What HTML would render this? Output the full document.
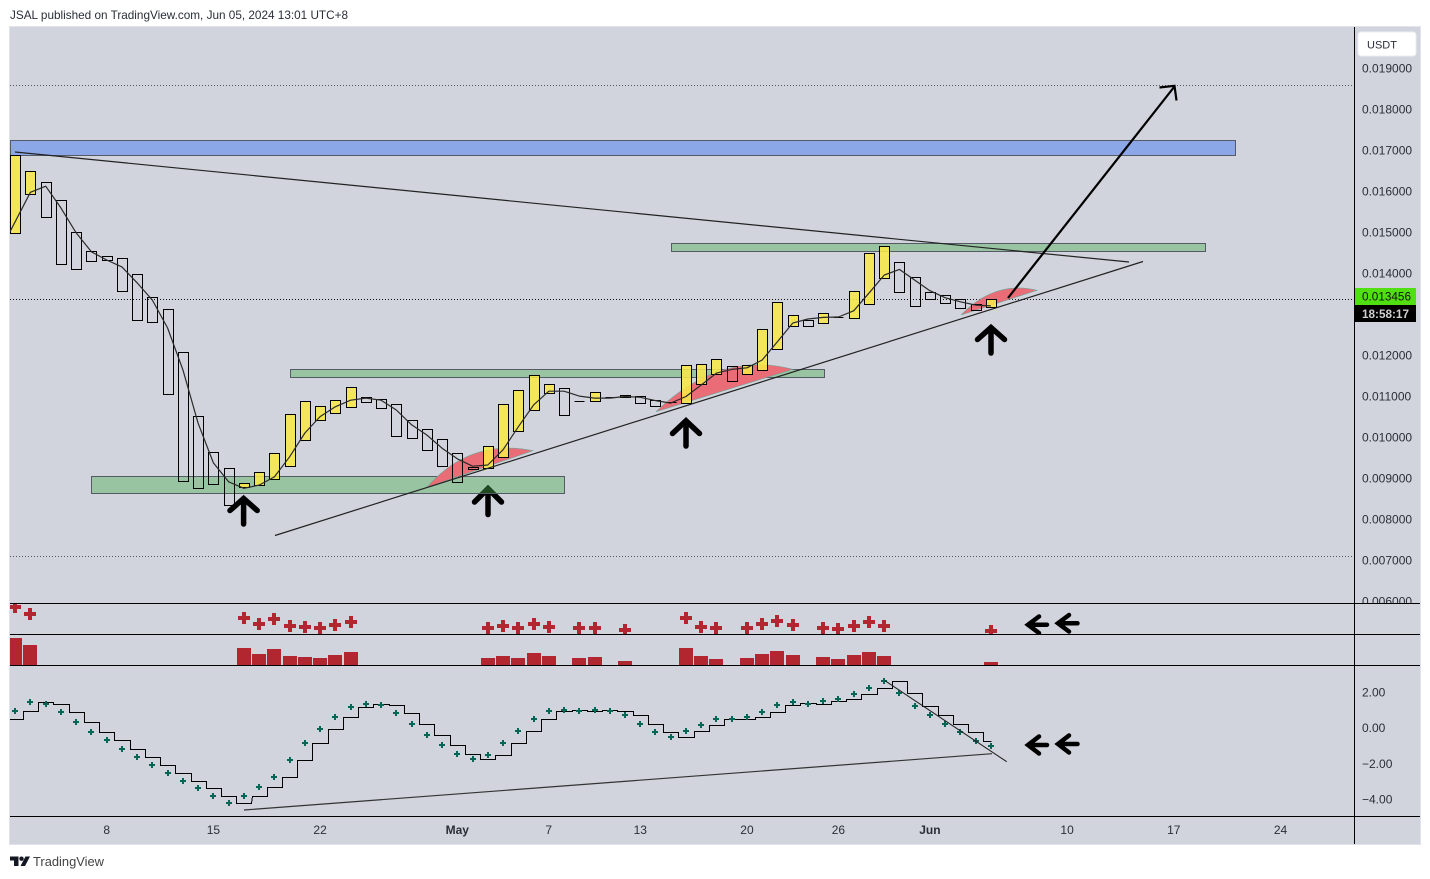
<!DOCTYPE html>
<html lang="en">
<head>
<meta charset="utf-8">
<title>JSAL TradingView chart</title>
<style>
html,body{margin:0;padding:0;background:#fff;width:1430px;height:879px;overflow:hidden}
svg{display:block;font-family:"Liberation Sans",sans-serif}
text{fill:#2a2e39}
</style>
</head>
<body>
<svg id="chart" width="1430" height="879" viewBox="0 0 1430 879">
  <defs>
    <clipPath id="clip-main"><rect x="10" y="27" width="1344" height="576"/></clipPath>
    <clipPath id="clip-signal"><rect x="10" y="604" width="1344" height="30"/></clipPath>
    <clipPath id="clip-hist"><rect x="10" y="635" width="1344" height="30"/></clipPath>
    <clipPath id="clip-osc"><rect x="10" y="666" width="1344" height="150"/></clipPath>
    <clipPath id="clip-axis"><rect x="1355" y="27" width="65" height="576"/></clipPath>
  </defs>

  <text x="10" y="19" font-size="12" textLength="338" lengthAdjust="spacingAndGlyphs">JSAL published on TradingView.com, Jun 05, 2024 13:01 UTC+8</text>

  <rect x="9.5" y="26.5" width="1411" height="818" fill="#d1d4dc" stroke="#e0e3eb"/>

  <g clip-path="url(#clip-main)">
    <g id="price-levels"></g>
    <rect x="10.5" y="140.5" width="1225" height="15" fill="#8ca7e8" stroke="#555a66"/>
    <g fill="none" stroke="#000" stroke-width="5.5" stroke-linecap="round" stroke-linejoin="miter">
      <path d="M230 510.5 L243.6 498.5 L257.2 510.5 M243.6 498.5 V524"/>
      <path d="M474.5 502 L488 488.5 L501.5 502 M488 488.5 V514.5"/>
      <path d="M672.5 433.5 L686 420.8 L699.5 433.5 M686 420.8 V446"/>
      <path d="M977.5 339.5 L991 327.5 L1004.5 339.5 M991 327.5 V353"/>
    </g>
    <rect x="91.5" y="476.5" width="473" height="17" fill="rgba(76,175,80,.42)" stroke="#555a66"/>
    <rect x="290.5" y="369.5" width="534" height="8" fill="rgba(76,175,80,.42)" stroke="#555a66"/>
    <rect x="671.5" y="243.5" width="534" height="8" fill="rgba(76,175,80,.42)" stroke="#555a66"/>
    <path d="M427 487.3 Q470 438 533 450.7 Z" fill="#ea6c76" stroke="#6fa59a" stroke-width=".6"/>
    <path d="M656 411.7 Q720 350 793 369.3 Z" fill="#ea6c76" stroke="#6fa59a" stroke-width=".6"/>
    <path d="M961 315 Q995 280 1037 290.3 Z" fill="#ea6c76" stroke="#6fa59a" stroke-width=".6"/>
    <g id="candles"></g>
    <path id="ma-line" fill="none" stroke="#2b2b2b" stroke-width="1.2" stroke-linejoin="round"/>
    <line x1="15" y1="152" x2="1129" y2="262" stroke="#222" stroke-width="1.2"/>
    <line x1="275" y1="535.5" x2="1143" y2="261.5" stroke="#222" stroke-width="1.2"/>
    <path d="M1008 298 L1174.5 86.5 M1159.500 87.500 L1174.500 85.800 L1176.500 100.500" fill="none" stroke="#000" stroke-width="2.2"/>
  </g>

  <g clip-path="url(#clip-signal)">
    <path id="signal-marks" fill="#b2272f"/>
    <g fill="none" stroke="#000" stroke-width="4.5" stroke-linecap="round">
      <path d="M1039 616.500 L1028 624.700 L1039 633 M1029 624.700 H1047"/>
      <path d="M1069 615 L1058 623.300 L1069 631.500 M1059 623.300 H1077.500"/>
    </g>
  </g>

  <g id="hist-bars" clip-path="url(#clip-hist)"></g>

  <g clip-path="url(#clip-osc)">
    <path id="osc-step" fill="none" stroke="#000" stroke-width="1" shape-rendering="crispEdges"/>
    <path id="osc-plus" fill="#056656" shape-rendering="crispEdges"/>
    <line x1="244" y1="810" x2="992" y2="753.700" stroke="#333" stroke-width="1.2"/>
    <line x1="885" y1="680.700" x2="1006.700" y2="761.700" stroke="#222" stroke-width="1.1"/>
    <g fill="none" stroke="#000" stroke-width="4.5" stroke-linecap="round">
      <path d="M1039 736.500 L1028 745 L1039 753.500 M1029 745 H1047"/>
      <path d="M1069 735.500 L1058 744 L1069 752.500 M1059 744 H1077.500"/>
    </g>
  </g>

  <g stroke="#000" stroke-width="1">
    <line x1="10" y1="603.500" x2="1420" y2="603.500"/>
    <line x1="10" y1="634.500" x2="1420" y2="634.500"/>
    <line x1="10" y1="665.500" x2="1420" y2="665.500"/>
    <line x1="10" y1="816.500" x2="1420" y2="816.500"/>
    <line x1="1354.500" y1="27" x2="1354.500" y2="844"/>
  </g>

  <g id="price-axis" clip-path="url(#clip-axis)" font-size="12"></g>
  <g id="osc-axis" font-size="12"></g>
  <g id="time-axis" font-size="12"></g>

  <g>
    <rect x="1358" y="32" width="58" height="24" rx="3" fill="#fff" stroke="#eceef2"/>
    <text x="1367" y="48.500" font-size="11">USDT</text>
  </g>
  <g>
    <rect x="1355" y="288" width="61" height="17" fill="#50e012"/>
    <text x="1362" y="300.500" font-size="12" textLength="49" lengthAdjust="spacingAndGlyphs" style="fill:#111">0.013456</text>
    <rect x="1355" y="305" width="61" height="17" fill="#000"/>
    <text x="1362" y="318" font-size="12" font-weight="bold" textLength="47" lengthAdjust="spacingAndGlyphs" style="fill:#d0d0d0">18:58:17</text>
  </g>

  <g>
    <path d="M10 856.500 H18.500 V866 H14 V860.500 H10 Z" fill="#131722"/>
    <circle cx="21.500" cy="858.700" r="2.200" fill="#131722"/>
    <path d="M25.500 856.500 H30 L25 866 H20.500 Z" fill="#131722"/>
    <text x="33" y="866" font-size="13" textLength="71" lengthAdjust="spacingAndGlyphs" style="fill:#444">TradingView</text>
  </g>
</svg>

<script>
// Prices are in units of 0.001 USDT; one entry per daily bar, starting 2 April.
const openPrices = [14.980,15.932,16.224,15.785,15.005,14.541,14.420,14.371,13.980,13.420,13.127,12.078,10.517,9.639,9.249,8.785,8.834,8.980,9.298,9.932,10.420,10.590,10.737,10.980,10.932,10.810,10.420,10.200,9.956,9.615,9.273,9.249,9.517,10.151,10.663,11.078,11.200,10.883,10.883,10.971,10.980,11.005,10.907,10.849,10.834,11.298,11.541,11.737,11.541,11.639,12.151,12.712,12.859,12.785,12.939,12.907,13.249,13.883,14.273,13.907,13.541,13.468,13.371,13.249,13.176];
const closePrices = [16.883,16.493,15.371,14.224,14.102,14.298,14.322,13.566,12.859,12.810,11.054,8.932,8.761,8.859,8.346,8.883,9.151,9.615,10.566,10.883,10.761,10.907,11.224,10.859,10.712,10.029,9.980,9.688,9.298,8.907,9.224,9.785,10.810,11.151,11.517,11.298,10.541,10.883,11.102,10.971,11.029,10.834,10.761,10.849,11.761,11.785,11.907,11.371,11.761,12.639,13.298,12.980,12.712,13.029,12.939,13.566,14.493,14.663,13.541,13.200,13.371,13.273,13.151,13.102,13.371];
const maValues = [15.02,15.98,16.13,15.60,14.99,14.53,14.33,14.16,13.77,13.35,12.67,11.65,10.35,9.38,8.92,8.76,8.84,9.04,9.53,10.11,10.51,10.75,10.91,10.96,10.91,10.67,10.31,10.06,9.74,9.48,9.30,9.33,9.70,10.26,10.79,11.13,11.13,11.01,10.96,10.96,11.00,10.98,10.90,10.84,11.00,11.28,11.57,11.66,11.70,11.89,12.34,12.79,12.89,12.93,12.94,13.09,13.52,13.96,14.10,13.84,13.58,13.41,13.31,13.23,13.21];
const signalBars = [0,1,15,16,17,18,19,20,21,22,31,32,33,34,35,37,38,40,44,45,46,48,49,50,51,53,54,55,56,57,64];
const signalPlusValues = [27.8,20.5,16.5,10.5,15.5,8.5,7.5,6.5,9.5,12.5,6.2,8.5,6.5,10.5,7.5,6.5,6.5,4.5,16.5,7.5,6.2,6.5,10.5,13.5,9.5,6.5,5.5,8.5,12.5,8.5,3.5];
const signalHistValues = [27,20,17,11,16,9,8,7,10,13,7,9,7,12,9,7,8,4,17,9,6,7,11,14,10,8,6,10,13,9,3];
const oscStepValues = [0.50,0.94,1.45,1.34,0.89,0.33,-0.23,-0.68,-1.18,-1.63,-2.08,-2.53,-2.98,-3.37,-3.82,-4.21,-3.82,-3.31,-2.75,-1.80,-0.85,-0.06,0.61,1.17,1.34,1.28,0.83,0.22,-0.40,-0.96,-1.46,-1.74,-1.52,-0.85,-0.18,0.50,0.94,1.00,0.94,1.00,0.94,0.72,0.22,-0.23,-0.51,-0.18,0.16,0.50,0.50,0.61,0.89,1.28,1.39,1.34,1.51,1.62,1.90,2.23,2.63,1.95,1.23,0.72,0.22,-0.23,-0.74];
const oscPlusValues = [0.98,1.49,1.37,0.93,0.37,-0.20,-0.64,-1.15,-1.60,-2.05,-2.49,-2.94,-3.34,-3.78,-4.18,-3.78,-3.28,-2.72,-1.77,-0.81,-0.03,0.65,1.21,1.37,1.32,0.87,0.25,-0.36,-0.92,-1.43,-1.71,-1.48,-0.81,-0.14,0.53,0.98,1.00,0.98,1.03,0.98,0.76,0.25,-0.20,-0.47,-0.14,0.20,0.53,0.53,0.65,0.93,1.32,1.49,1.37,1.54,1.65,1.93,2.27,2.66,1.99,1.26,0.76,0.25,-0.20,-0.70,-0.98];
const priceTickValues = [19,18,17,16,15,14,13,12,11,10,9,8,7,6];
const priceTickLabels = ['0.019000','0.018000','0.017000','0.016000','0.015000','0.014000','','0.012000','0.011000','0.010000','0.009000','0.008000','0.007000','0.006000'];
const oscTickValues = [2,0,-2,-4];
const oscTickLabels = ['2.00','0.00','\u22122.00','\u22124.00'];
const timeTickBars = [6,13,20,29,35,41,48,54,60,69,76,83];
const timeTickLabels = ['8','15','22','May','7','13','20','26','Jun','10','17','24'];
const dottedLevels = [18.586,13.366,7.098];

const SVG_NS = 'http://www.w3.org/2000/svg';
const xOf = function (bar) { return 15.2 + 15.245 * bar; };
const yPrice = function (p) { return 68.5 + (19 - p) * 41; };
const yOsc = function (v) { return 728.2 - 17.85 * v; };
const ySignal = function (v) { return 634.5 - v; };
const yHist = function (v) { return 665 - v; };
const snap = function (n) { return Math.floor(n) + 0.5; };
function make(tag, parent) {
  const el = document.createElementNS(SVG_NS, tag);
  parent.appendChild(el);
  return el;
}
function crossPath(cx, cy, half, arm) {
  return 'M' + (cx - arm) + ' ' + (cy - half) + 'h' + (2 * arm) + 'v' + (half - arm) + 'h' + (half - arm) +
    'v' + (2 * arm) + 'h' + (arm - half) + 'v' + (half - arm) + 'h' + (-2 * arm) + 'v' + (arm - half) +
    'h' + (arm - half) + 'v' + (-2 * arm) + 'h' + (half - arm) + 'z';
}

const levelGroup = document.getElementById('price-levels');
dottedLevels.forEach(function (level) {
  const line = make('line', levelGroup);
  
  
  const y = snap(yPrice(level));
  line.setAttribute('x1', 10);
  line.setAttribute('x2', 1354);
  line.setAttribute('y1', y);
  line.setAttribute('y2', y);
  line.setAttribute('stroke', level > 13 && level < 14 ? '#111' : '#555');
  line.setAttribute('stroke-width', 1);
  line.setAttribute('stroke-dasharray', '1 2');
});

const candleGroup = document.getElementById('candles');
openPrices.forEach(function (open, i) {
  const close = closePrices[i];
  const top = snap(yPrice(Math.max(open, close)));
  const bottom = snap(yPrice(Math.min(open, close)));
  const left = Math.round(xOf(i) - 5) + 0.5;
  const candle = make('path', candleGroup);
  
  
  candle.setAttribute('d', 'M' + left + ' ' + top + 'h10V' + bottom + 'h-10z');
  candle.setAttribute('fill', close > open ? 'rgba(248,232,72,.88)' : 'none');
  candle.setAttribute('stroke', '#000');
  candle.setAttribute('stroke-width', 1);
  candle.setAttribute('shape-rendering', 'crispEdges');
});

document.getElementById('ma-line').setAttribute('d', maValues.map(function (v, i) {
  return (i ? 'L' : 'M') + (i === 0 ? 10 : xOf(i)).toFixed(1) + ' ' + yPrice(v).toFixed(1);
}).join(''));

let signalPath = '';
signalBars.forEach(function (bar, i) {
  signalPath += crossPath(Math.round(xOf(bar)), Math.round(ySignal(signalPlusValues[i])), 6, 2);
});
document.getElementById('signal-marks').setAttribute('d', signalPath);

const histGroup = document.getElementById('hist-bars');
signalBars.forEach(function (bar, i) {
  const rect = make('rect', histGroup);
  
  
  rect.setAttribute('x', Math.round(xOf(bar) - 7));
  rect.setAttribute('width', 14);
  rect.setAttribute('y', yHist(signalHistValues[i]));
  rect.setAttribute('height', signalHistValues[i]);
  rect.setAttribute('fill', '#b2272f');
});

let stepPath = '';
oscStepValues.forEach(function (v, i) {
  const y = snap(yOsc(v));
  const x1 = i === 0 ? 10 : Math.round(xOf(i) - 7.62) + 0.5;
  const x2 = i === oscStepValues.length - 1 ? Math.round(xOf(i)) + 0.5 : Math.round(xOf(i) + 7.62) + 0.5;
  stepPath += (i ? 'L' : 'M') + x1 + ' ' + y + 'L' + x2 + ' ' + y;
});
document.getElementById('osc-step').setAttribute('d', stepPath);

let oscPlusPath = '';
oscPlusValues.forEach(function (v, i) {
  oscPlusPath += crossPath(Math.round(xOf(i)), Math.round(yOsc(v)), 3, 1);
});
document.getElementById('osc-plus').setAttribute('d', oscPlusPath);

const priceAxis = document.getElementById('price-axis');
priceTickValues.forEach(function (value, i) {
  if (!priceTickLabels[i]) return;
  const t = make('text', priceAxis);
  
  
  t.setAttribute('x', 1362);
  t.setAttribute('y', yPrice(value) + 4);
  t.textContent = priceTickLabels[i];
});

const oscAxis = document.getElementById('osc-axis');
oscTickValues.forEach(function (value, i) {
  const t = make('text', oscAxis);
  
  
  t.setAttribute('x', 1362);
  t.setAttribute('y', yOsc(value) + 4);
  t.textContent = oscTickLabels[i];
});

const timeAxis = document.getElementById('time-axis');
timeTickBars.forEach(function (bar, i) {
  const t = make('text', timeAxis);
  
  
  t.setAttribute('x', xOf(bar));
  t.setAttribute('y', 834);
  t.setAttribute('text-anchor', 'middle');
  if (/[A-Za-z]/.test(timeTickLabels[i])) t.setAttribute('font-weight', 'bold');
  t.textContent = timeTickLabels[i];
});
</script>
</body>
</html>
